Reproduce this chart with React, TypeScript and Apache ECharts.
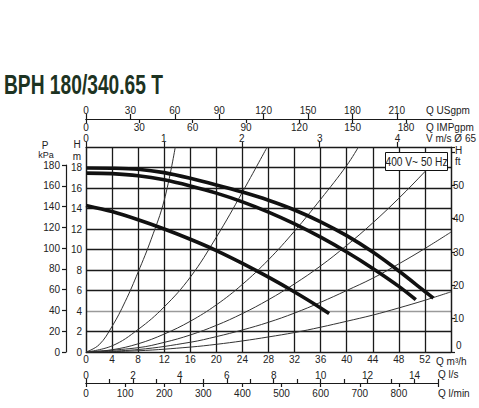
import React, { useEffect, useRef } from "react";
import * as echarts from "echarts";

// ---- data (Q in m3/h, H in m) ----
const pumpCurveHigh: [number, number][] = [
  [0, 17.95], [4, 17.93], [8, 17.83], [12, 17.5], [16, 16.95], [20, 16.3], [24, 15.6],
  [28, 14.8], [32, 13.85], [36, 12.7], [40, 11.35], [44, 9.75], [48, 7.9], [52, 5.9], [53.3, 5.25],
];
const pumpCurveMid: [number, number][] = [
  [0, 17.45], [4, 17.4], [8, 17.2], [12, 16.8], [16, 16.2], [20, 15.5], [24, 14.65],
  [28, 13.65], [32, 12.5], [36, 11.2], [40, 9.75], [44, 8.15], [48, 6.4], [50.6, 5.1],
];
const pumpCurveLow: [number, number][] = [
  [0, 14.3], [4, 13.7], [8, 12.9], [12, 12.0], [16, 11.0], [20, 9.9], [24, 8.65],
  [28, 7.3], [32, 5.85], [36, 4.3], [37.3, 3.75],
];
const systemCurveA: [number, number][] = [
  [0, 0], [2, 0.7], [4, 2.5], [6, 4.9], [8, 7.8], [10, 11.0], [12, 14.8], [13.7, 20],
];
const systemCurveB: [number, number][] = [
  [0, 0], [4, 0.6], [8, 2.2], [12, 4.4], [16, 7.3], [20, 11.2], [24, 15.6], [27.8, 20],
];
const systemCurveC: [number, number][] = [
  [0, 0], [4, 0.22], [8, 0.8], [12, 1.75], [16, 3.0], [20, 4.6], [24, 6.6], [28, 9.0],
  [32, 11.8], [36, 14.9], [40, 18.2], [41.8, 20],
];
const systemCurveD: [number, number][] = [
  [0, 0], [8, 0.42], [12, 0.94], [16, 1.66], [20, 2.6], [24, 3.75], [28, 5.1], [32, 6.65],
  [36, 8.4], [40, 10.4], [44, 12.6], [48, 15.0], [52, 17.6], [54, 19.0],
];
const systemCurveE: [number, number][] = [
  [0, 0], [8, 0.24], [16, 0.95], [20, 1.5], [24, 2.15], [28, 2.9], [32, 3.8], [36, 4.85],
  [40, 6.0], [44, 7.2], [48, 8.6], [52, 10.1], [56, 11.7],
];
const systemCurveF: [number, number][] = [
  [0, 0], [8, 0.12], [16, 0.48], [20, 0.75], [24, 1.08], [28, 1.47], [32, 1.9], [36, 2.42],
  [40, 3.0], [44, 3.6], [48, 4.3], [52, 5.05], [56, 5.87],
];

// axis ranges and tick labels
const qMax = 56; // m3/h
const hMax = 20; // m
const ftMax = 61.5;
const vMax = 4.686; // m/s for DN65
const usGpmMax = 246.6;
const impGpmMax = 205.3;
const lsMax = 15;
const lminMax = 900;
const kpaMax = 180;
const vTicks = [0, 1, 2, 3, 4];
const usGpmTicks = [0, 30, 60, 90, 120, 150, 180, 210];
const impGpmTicks = [0, 30, 60, 90, 120, 150, 180];

const title = "BPH 180/340.65 T";
const legendText = "400 V~ 50 Hz";

const FONT = '"Liberation Sans", Arial, sans-serif';
const INK = "#1a1a1a";
const lab = { color: "#222", fontSize: 10, fontFamily: FONT };
const line = { lineStyle: { color: INK, width: 1.2 } };

export default function App() {
  const ref = useRef<HTMLDivElement>(null);
  useEffect(() => {
    const chart = echarts.init(ref.current!, null, { renderer: "svg" });
    const thin = (d: [number, number][]) => ({
      type: "line", xAxisIndex: 0, yAxisIndex: 0, data: d, smooth: 0.4, symbol: "none",
      lineStyle: { color: "#333", width: 1 }, silent: true, z: 3,
    });
    const thick = (d: [number, number][]) => ({
      type: "line", xAxisIndex: 0, yAxisIndex: 0, data: d, smooth: 0.3, symbol: "none",
      lineStyle: { color: "#111", width: 3.6, cap: "butt" }, silent: true, z: 4,
    });
    const hGridColors = Array.from({ length: 11 }, (_, i) => (i === 2 ? "#9a9a9a" : INK));
    const txt = (text: string, x: number, y: number, align = "left", size = 10) => ({
      type: "text", x, y, z: 100,
      style: { text, fill: "#222", font: `${size}px ${FONT}`, textAlign: align, textVerticalAlign: "middle" },
    });
    chart.setOption({
      animation: false,
      backgroundColor: "#fff",
      grid: [
        { left: 86, top: 147, width: 365, height: 205 },
        { left: 86, top: 119, width: 365, height: 30 },
        { left: 86, top: 383, width: 352, height: 20 },
        { left: 66, top: 165, width: 10, height: 187 },
      ],
      xAxis: [
        {
          gridIndex: 0, type: "value", position: "bottom", min: 0, max: qMax, interval: 4,
          axisLine: { onZero: false, ...line }, axisTick: { show: false },
          axisLabel: { ...lab, margin: 2, formatter: (v: number) => (v >= 56 ? "" : String(v)) },
          splitLine: { show: true, lineStyle: { color: INK, width: 1.3 } },
        },
        {
          gridIndex: 0, type: "value", position: "top", min: 0, max: vMax, interval: 1,
          axisLine: { onZero: false, ...line },
          axisTick: { show: true, length: 5, customValues: vTicks, ...line },
          axisLabel: { ...lab, margin: 4, customValues: vTicks },
          splitLine: { show: false },
        },
        {
          gridIndex: 1, type: "value", position: "top", min: 0, max: usGpmMax, interval: 30,
          axisLine: { onZero: false, ...line },
          axisTick: { show: true, length: 5, customValues: usGpmTicks, ...line },
          axisLabel: { ...lab, margin: 4, customValues: usGpmTicks },
          splitLine: { show: false },
        },
        {
          gridIndex: 1, type: "value", position: "top", min: 0, max: impGpmMax, interval: 30,
          axisLine: { onZero: false, ...line },
          axisTick: { show: true, inside: true, length: 4, customValues: impGpmTicks, ...line },
          axisLabel: { ...lab, inside: true, margin: 3, customValues: impGpmTicks },
          splitLine: { show: false },
        },
        {
          gridIndex: 2, type: "value", position: "top", min: 0, max: lsMax, interval: 1,
          axisLine: { onZero: false, ...line }, axisTick: { show: true, length: 4, ...line },
          axisLabel: { ...lab, margin: 3, formatter: (v: number) => (v % 2 === 0 && v < 15 ? String(v) : "") },
          splitLine: { show: false },
        },
        {
          gridIndex: 2, type: "value", position: "top", min: 0, max: lminMax, interval: 100,
          axisLine: { onZero: false, ...line }, axisTick: { show: true, inside: true, length: 4, ...line },
          axisLabel: { ...lab, inside: true, margin: 5, formatter: (v: number) => (v >= 900 ? "" : String(v)) },
          splitLine: { show: false },
        },
        { gridIndex: 3, type: "value", show: false, min: 0, max: 1 },
      ],
      yAxis: [
        {
          gridIndex: 0, type: "value", position: "left", min: 0, max: hMax, interval: 2,
          axisLine: { show: true, onZero: false, ...line }, axisTick: { show: false },
          axisLabel: { ...lab, margin: 4, formatter: (v: number) => (v >= 20 ? "" : String(v)) },
          splitLine: { show: true, lineStyle: { color: hGridColors, width: 1.3 } },
        },
        {
          gridIndex: 0, type: "value", position: "right", min: 0, max: ftMax, interval: 10,
          axisLine: { show: true, onZero: false, ...line }, axisTick: { show: true, length: 4, ...line },
          axisLabel: { ...lab, margin: 2, formatter: (v: number) => (v >= 60 || v === 0 ? "" : String(v)) },
          splitLine: { show: false },
        },
        { gridIndex: 1, type: "value", show: false },
        { gridIndex: 2, type: "value", show: false },
        {
          gridIndex: 3, type: "value", position: "left", min: 0, max: kpaMax, interval: 20,
          axisLine: { show: true, onZero: false, ...line }, axisTick: { show: true, length: 4, ...line },
          axisLabel: { ...lab, margin: 6 },
          splitLine: { show: false },
        },
      ],
      series: [
        thin(systemCurveA), thin(systemCurveB), thin(systemCurveC),
        thin(systemCurveD), thin(systemCurveE), thin(systemCurveF),
        thick(pumpCurveHigh), thick(pumpCurveMid), thick(pumpCurveLow),
      ],
      graphic: [
        {
          type: "text", x: 4, y: 84, scaleX: 0.686, z: 100,
          style: { text: title, fill: "#1d3322", font: `bold 28px ${FONT}`, textVerticalAlign: "middle" },
        },
        txt("Q USgpm", 426, 110),
        txt("Q IMPgpm", 426, 127),
        txt("V m/s Ø 65", 426, 138),
        txt("H", 455, 150),
        txt("ft", 455, 161),
        txt("0", 456, 345),
        txt("Q m³/h", 436, 361),
        txt("Q l/s", 438, 374),
        txt("Q l/min", 438, 393),
        txt("P", 45, 145, "center"),
        txt("kPa", 46, 154.5, "center", 9),
        txt("H", 77, 144, "center"),
        txt("m", 77, 156, "center"),
        {
          type: "rect", z: 100, shape: { x: 385.5, y: 152.5, width: 62, height: 18 },
          style: { fill: "#fff", stroke: "#111", lineWidth: 1 },
        },
        {
          type: "text", x: 416.5, y: 162, scaleX: 0.85, z: 101,
          style: { text: legendText, fill: "#222", font: `12px ${FONT}`, textAlign: "center", textVerticalAlign: "middle" },
        },
      ],
    });
    return () => chart.dispose();
  }, []);
  return (
    <div
      ref={ref}
      style={{ position: "fixed", left: 0, top: 0, width: 479, height: 408, background: "#fff" }}
    />
  );
}
